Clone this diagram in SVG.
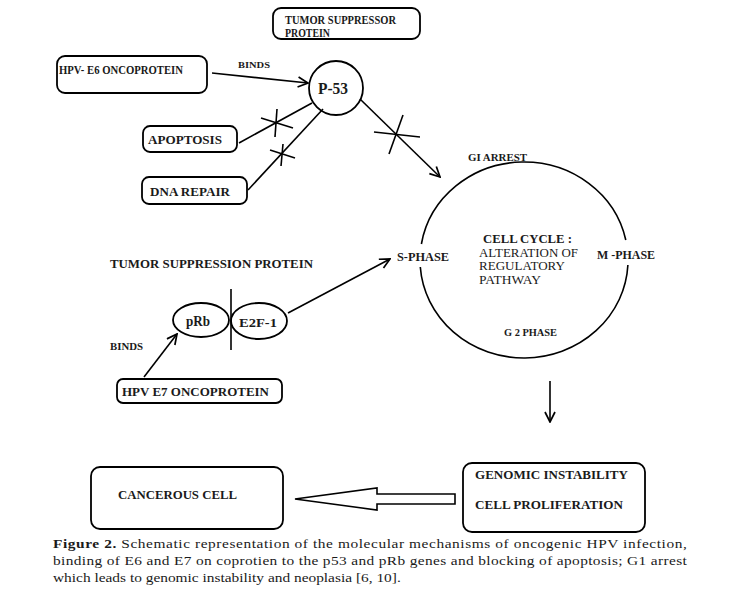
<svg xmlns="http://www.w3.org/2000/svg" width="747" height="600" viewBox="0 0 747 600">
<style>
  .box{fill:none;stroke:#000;stroke-width:1.8}
  .ln{fill:none;stroke:#000;stroke-width:1.6}
  text{font-family:'Liberation Serif', 'Times New Roman', serif;fill:#1a1a1a}
  .lb{font-weight:bold}
</style>
<defs>
  <marker id="arr" viewBox="0 0 12 12" refX="11" refY="6" markerWidth="12" markerHeight="12" markerUnits="userSpaceOnUse" orient="auto">
    <path d="M1,1 L11,6 L1,11" fill="none" stroke="#000" stroke-width="1.7"/>
  </marker>
</defs>
<rect width="747" height="600" fill="#fff"/>

<g id="tumor-suppressor-protein">
  <rect class="box" x="273" y="8" width="147" height="31" rx="8"/>
  <text class="lb" x="285" y="24" font-size="11.5" textLength="111" lengthAdjust="spacingAndGlyphs">TUMOR SUPPRESSOR</text>
  <text class="lb" x="285" y="36.5" font-size="11.5" textLength="45" lengthAdjust="spacingAndGlyphs">PROTEIN</text>
</g>
<g id="hpv-e6">
  <rect class="box" x="57" y="56" width="150" height="37" rx="8"/>
  <text class="lb" x="59" y="74" font-size="11.5" textLength="124" lengthAdjust="spacingAndGlyphs">HPV- E6 ONCOPROTEIN</text>
</g>
<g id="p53">
  <circle class="box" cx="336" cy="88" r="27"/>
  <text class="lb" x="333" y="93.5" font-size="16" text-anchor="middle" textLength="30" lengthAdjust="spacingAndGlyphs">P-53</text>
</g>
<g id="apoptosis">
  <rect class="box" x="143" y="126" width="94" height="26" rx="7"/>
  <text class="lb" x="148" y="143.5" font-size="13.5" textLength="74" lengthAdjust="spacingAndGlyphs">APOPTOSIS</text>
</g>
<g id="dna-repair">
  <rect class="box" x="142" y="177" width="105" height="27" rx="7"/>
  <text class="lb" x="150" y="196" font-size="13.5" textLength="80" lengthAdjust="spacingAndGlyphs">DNA REPAIR</text>
</g>
<g id="cell-cycle">
  <path class="ln" d="M421.4,244 A104,98 0 0,1 625.8,240"/>
  <path class="ln" d="M627.9,265 A104,98 0 0,1 420.3,267"/>
  <text class="lb" x="483" y="243" font-size="12.5" textLength="89" lengthAdjust="spacingAndGlyphs">CELL CYCLE :</text>
  <text x="479" y="256.5" font-size="12" textLength="99" lengthAdjust="spacingAndGlyphs">ALTERATION OF</text>
  <text x="479" y="270" font-size="12" textLength="86" lengthAdjust="spacingAndGlyphs">REGULATORY</text>
  <text x="479" y="284" font-size="12" textLength="62" lengthAdjust="spacingAndGlyphs">PATHWAY</text>
</g>
<g id="g1-arrest"><text class="lb" x="468" y="160.5" font-size="10.5" textLength="59" lengthAdjust="spacingAndGlyphs">GI ARREST</text></g>
<g id="s-phase"><text class="lb" x="397" y="261" font-size="12.5" textLength="52" lengthAdjust="spacingAndGlyphs">S-PHASE</text></g>
<g id="m-phase"><text class="lb" x="597" y="259" font-size="13" textLength="58" lengthAdjust="spacingAndGlyphs">M -PHASE</text></g>
<g id="g2-phase"><text class="lb" x="504" y="336" font-size="10" textLength="53" lengthAdjust="spacingAndGlyphs">G 2 PHASE</text></g>
<g id="tumor-suppression-protein"><text class="lb" x="110" y="267.5" font-size="12" textLength="203" lengthAdjust="spacingAndGlyphs">TUMOR SUPPRESSION PROTEIN</text></g>
<g id="prb">
  <ellipse class="box" cx="201" cy="320" rx="28" ry="17"/>
  <text class="lb" x="198" y="326" font-size="14" text-anchor="middle" textLength="24" lengthAdjust="spacingAndGlyphs">pRb</text>
</g>
<g id="e2f1">
  <ellipse class="box" cx="259" cy="321" rx="28" ry="18"/>
  <text class="lb" x="258" y="327" font-size="13.5" text-anchor="middle" textLength="38" lengthAdjust="spacingAndGlyphs">E2F-1</text>
</g>
<g id="divider"><line class="ln" x1="231" y1="289" x2="231" y2="350" stroke-width="2"/></g>
<g id="hpv-e7">
  <rect class="box" x="117" y="379" width="165" height="24" rx="6"/>
  <text class="lb" x="122" y="396" font-size="13.5" textLength="147" lengthAdjust="spacingAndGlyphs">HPV E7 ONCOPROTEIN</text>
</g>
<g id="cancerous-cell">
  <rect class="box" x="91" y="467" width="192" height="62" rx="9"/>
  <text class="lb" x="118" y="499" font-size="13" textLength="119" lengthAdjust="spacingAndGlyphs">CANCEROUS CELL</text>
</g>
<g id="genomic-instability">
  <rect class="box" x="463" y="463" width="182" height="69" rx="9"/>
  <text class="lb" x="475" y="479" font-size="13.5" textLength="153" lengthAdjust="spacingAndGlyphs">GENOMIC  INSTABILITY</text>
  <text class="lb" x="475" y="509" font-size="13" textLength="148" lengthAdjust="spacingAndGlyphs">CELL  PROLIFERATION</text>
</g>

<g id="connectors">
  <line class="ln" x1="212" y1="73" x2="308" y2="83" marker-end="url(#arr)"/>
  <text class="lb" x="238" y="68" font-size="9" textLength="32" lengthAdjust="spacingAndGlyphs">BINDS</text>
  <line class="ln" x1="239" y1="143" x2="312" y2="103"/>
  <line class="ln" x1="261" y1="118" x2="293" y2="128"/>
  <line class="ln" x1="277" y1="109" x2="275" y2="137"/>
  <line class="ln" x1="248" y1="190" x2="323" y2="109"/>
  <line class="ln" x1="270" y1="150" x2="295" y2="158"/>
  <line class="ln" x1="283" y1="144" x2="281" y2="166"/>
  <line class="ln" x1="360" y1="99" x2="440" y2="177" marker-end="url(#arr)"/>
  <line class="ln" x1="374" y1="132" x2="420" y2="137"/>
  <line class="ln" x1="403" y1="115" x2="389" y2="154"/>
  <line class="ln" x1="288" y1="313" x2="390" y2="259" marker-end="url(#arr)"/>
  <line class="ln" x1="144" y1="377" x2="177" y2="334" marker-end="url(#arr)"/>
  <text class="lb" x="110" y="350" font-size="10" textLength="33" lengthAdjust="spacingAndGlyphs">BINDS</text>
  <line class="ln" x1="550" y1="381" x2="550" y2="422" marker-end="url(#arr)"/>
  <path class="ln" d="M455,494 L377,494 L377,488 L295,499 L377,510 L377,504 L455,504 Z"/>
</g>

<g id="caption" transform="translate(53,0) scale(1.14,1)">
  <text x="0" y="548" font-size="13.5" textLength="556" lengthAdjust="spacing"><tspan class="lb">Figure 2.</tspan> Schematic representation of the molecular mechanisms of oncogenic HPV infection,</text>
  <text x="0" y="565" font-size="13.5" textLength="556" lengthAdjust="spacing">binding of E6 and E7 on coprotien to the p53 and pRb genes and blocking of apoptosis; G1 arrest</text>
  <text x="0" y="582" font-size="13.5">which leads to genomic instability and neoplasia [6, 10].</text>
</g>
</svg>
